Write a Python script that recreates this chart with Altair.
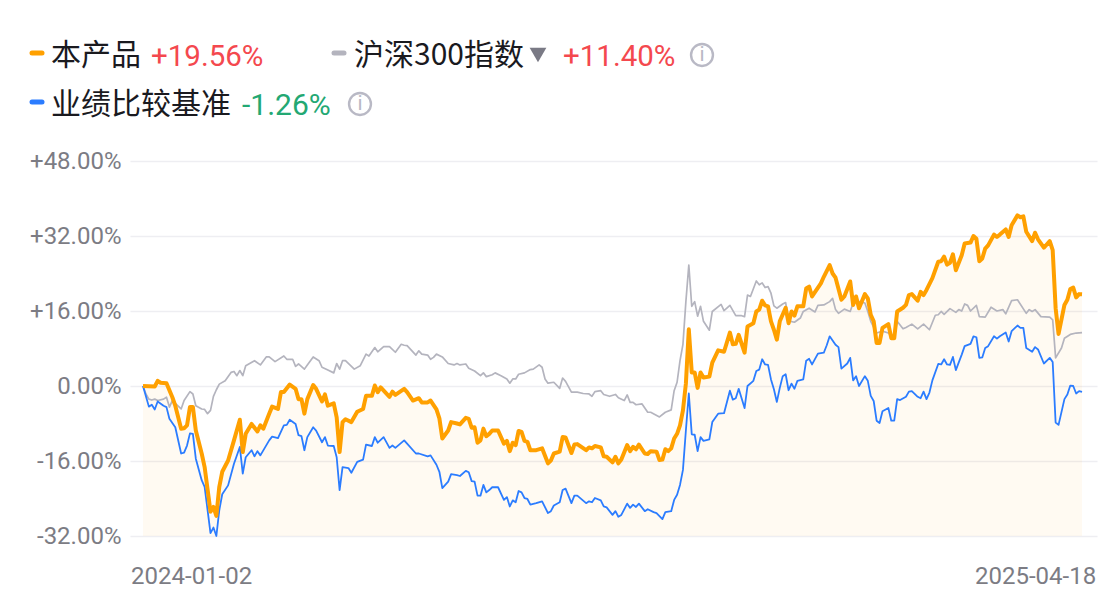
import altair as alt
import pandas as pd

orange_days = [0,4,5,6,8,10,11,13,14,15,16,17,18,20,21,23,24,25,26,27,29,31,33,34,35,37,39,40,41,43,44,46,47,48,50,52,53,54,55,56,58,59,61,62,63,65,66,67,68,69,71,73,75,76,78,79,80,81,84,85,86,89,90,92,94,95,97,98,100,101,102,104,105,107,108,110,111,112,113,114,115,116,117,118,119,121,123,124,125,126,127,128,129,130,131,132,134,136,138,139,140,142,143,144,146,147,148,151,152,153,154,156,157,158,160,161,162,163,165,166,167,168,169,171,172,173,175,176,177,178,179,180,181,182,183,184,185,186,187,188,189,190,191,193,194,196,198,200,201,202,203,205,206,208,209,210,211,212,213,214,215,216,217,219,220,221,222,223,225,226,227,228,231,232,234,235,236,238,239,241,242,243,244,246,247,248,249,250,251,252,254,255,256,257,259,260,261,262,264,265,266,267,269,271,272,273,274,275,276,277,279,280,282,283,284,285,286,287,288,290,291,292,294,295,296,298,299,300,301,303,304,305,307,309,310,311,312,314,315,316,317,318,319,320]
orange_vals = [0,-0.1,1.1,0.7,0.6,-2.4,-4.2,-9.1,-9.0,-8.4,-4.5,-4.5,-9.5,-14.4,-17.3,-26.8,-25.8,-27.7,-21.5,-18.3,-15.9,-11.6,-7.2,-14.1,-10.2,-8.1,-9.7,-8.4,-9.1,-5.9,-4.4,-4.9,-1.3,-1.3,0.3,-0.6,-2.8,-2.8,-5.9,-2.8,0.2,-0.6,-3.3,-1.8,-4.2,-3.7,-6.7,-14.1,-7.7,-7.1,-7.7,-5.5,-4.9,-2.1,-2.1,0.1,-1.3,-0.3,-2.3,-1.2,-1.9,-0.6,-1.3,-3.1,-2.6,-3.5,-3.5,-3.1,-5.0,-6.9,-11.2,-9.5,-7.7,-8.0,-8.2,-6.8,-7.0,-8.9,-8.8,-12.1,-11.6,-9.1,-10.7,-10.2,-9.5,-9.5,-12.3,-11.7,-13.9,-12.1,-12.6,-9.6,-9.8,-11.7,-11.9,-13.7,-13.7,-13.3,-16.5,-15.9,-14.4,-14.0,-10.9,-11.0,-14.3,-12.5,-12.4,-13.7,-13.1,-13.3,-12.8,-13.1,-15.0,-15.1,-16.3,-15.1,-16.5,-15.7,-12.6,-13.9,-13.0,-13.5,-12.5,-14.4,-14.5,-13.9,-14.0,-15.8,-15.7,-13.5,-13.9,-13.3,-11.2,-10.2,-8.4,-5.2,0.5,12.1,2.9,2.9,-0.4,2.9,1.8,2.0,5.0,7.6,7.3,11.4,8.9,9.0,10.9,7.1,12.7,13.4,15.9,16.3,18.2,17.2,17.0,13.8,12.0,9.9,13.8,16.7,13.4,15.9,15.0,17.0,17.0,20.8,21.2,19.1,21.9,23.3,25.8,24.0,23.1,18.4,19.1,22.3,17.3,19.1,16.6,19.6,18.7,15.2,13.8,9.2,9.2,12.4,13.2,10.2,10.2,15.9,16.7,17.3,19.4,19.6,18.2,20.1,19.4,20.5,23.0,26.5,26.6,27.6,25.9,26.3,28.1,24.7,27.9,30.4,30.6,32.0,31.4,26.6,27.2,29.3,30.0,32.3,31.8,32.3,33.4,31.8,34.3,36.4,36.0,36.2,32.9,30.9,32.7,31.3,29.5,30.9,29.0,16.6,11.1,17.3,18.4,20.7,21.0,18.9,19.6,19.56]

gray_days = [0,1,2,3,4,5,7,8,9,10,13,14,16,17,18,20,21,22,23,24,25,26,28,30,31,32,33,34,35,38,40,42,43,45,48,49,51,52,53,55,56,58,60,61,63,65,66,67,68,69,72,74,76,77,79,80,82,84,86,88,89,90,93,94,95,97,98,99,100,102,104,106,107,108,110,111,113,115,116,117,119,120,122,124,125,126,127,128,130,132,133,135,136,137,138,140,142,143,144,146,148,150,152,153,154,156,157,159,161,162,164,165,166,167,168,170,172,173,176,178,180,181,182,183,184,185,186,187,188,189,190,191,193,194,197,198,200,202,204,205,206,207,209,210,211,212,213,214,215,216,218,219,220,222,224,225,227,229,230,232,234,235,236,237,239,241,242,244,246,247,248,250,252,254,256,257,259,260,262,264,266,268,270,271,272,273,275,277,278,279,280,281,282,284,285,287,289,291,293,294,296,298,301,302,303,304,306,309,310,311,313,314,316,318,320]
gray_vals = [0,-1.7,-2.8,-3.0,-2.8,-3.1,-2.8,-2.4,-4.5,-3.1,-4.9,-3.1,-1.2,-1.7,-4.2,-4.9,-5.0,-5.9,-5.2,-2.2,-0.8,0.4,1.1,2.9,3.1,2.2,3.3,2.2,4.3,5.4,4.5,6.2,6.2,5.2,6.4,5.7,5.7,4.2,4.7,3.6,4.5,6.2,5.4,4.0,3.4,2.8,4.8,3.6,5.4,5.4,3.6,4.3,6.8,6.4,8.2,7.3,8.4,8.4,7.2,8.9,8.7,8.6,6.6,7.5,6.8,6.6,5.7,6.1,6.8,6.2,4.8,4.5,4.8,4.5,4.7,3.8,3.2,2.2,2.8,2.0,2.4,2.8,2.2,1.5,0.6,1.5,1.5,2.5,2.8,3.5,3.6,4.5,4.0,1.5,0.6,0.8,-0.5,1.7,1.0,-1.3,-1.3,-1.6,-1.7,-2.2,-1.2,-1.0,-1.8,-2.2,-1.8,-2.5,-3.1,-1.9,-3.5,-3.5,-4.0,-3.8,-5.6,-5.6,-6.6,-5.6,-5.1,-1.0,0.8,5.4,8.9,18.0,25.8,17.0,18.0,14.9,17.0,13.8,11.9,15.9,17.4,16.1,17.2,15.0,15.0,14.8,19.4,19.1,22.4,21.6,22.0,21.0,21.2,19.8,17.1,16.6,17.5,17.8,13.9,13.6,14.5,15.9,16.6,15.8,17.2,17.3,18.0,18.7,16.3,15.5,16.4,15.9,17.7,18.0,17.7,15.9,13.8,11.3,11.7,11.3,10.2,13.8,12.2,12.5,13.2,12.2,13.2,12.0,15.1,15.2,15.9,15.3,16.5,15.7,16.3,16.0,17.5,17.2,16.0,17.2,14.8,14.7,16.8,16.0,16.3,15.4,18.2,18.4,15.5,16.3,15.9,16.3,14.8,14.7,14.1,6.0,8.1,10.2,11.0,11.3,11.4]

blue_days = [0,2,3,4,5,7,8,9,11,13,14,15,16,17,18,20,21,23,24,25,26,27,29,31,33,34,35,37,38,39,40,43,44,46,48,49,50,52,53,54,55,56,58,59,61,62,63,65,66,67,68,70,71,73,75,76,78,79,80,82,84,85,86,89,90,93,94,97,98,100,101,102,104,105,107,108,110,111,112,113,114,115,116,117,118,119,121,123,124,125,126,127,128,129,130,131,132,134,136,138,139,140,142,143,144,146,147,148,151,152,153,154,156,157,158,160,161,162,163,165,166,167,168,169,171,172,174,175,177,178,180,181,182,183,184,185,186,187,188,189,190,191,193,194,196,198,200,201,202,203,205,206,208,209,210,211,212,213,214,215,216,217,218,219,220,221,222,223,225,226,227,228,230,232,233,234,236,237,238,240,241,242,243,244,246,247,248,249,250,251,252,254,255,256,257,258,260,261,262,264,265,266,267,268,269,271,272,273,274,275,276,277,279,280,282,283,284,285,286,287,288,290,291,292,294,295,296,298,299,300,301,303,304,305,307,309,310,311,312,314,315,316,317,318,319,320]
blue_vals = [0,-4.4,-4.0,-5.0,-3.3,-4.2,-4.5,-7.0,-8.8,-14.4,-14.2,-12.7,-10.1,-10.2,-15.5,-20.1,-21.5,-31.4,-30.2,-32.0,-26.5,-23.1,-21.2,-16.6,-13.0,-18.7,-15.2,-13.7,-15.0,-13.9,-14.8,-11.6,-10.8,-11.1,-8.4,-8.3,-7.2,-8.1,-10.5,-10.7,-13.7,-10.9,-8.8,-9.5,-12.0,-10.9,-12.7,-12.8,-15.2,-22.2,-17.3,-17.5,-18.5,-16.2,-15.7,-12.5,-12.8,-10.9,-12.1,-10.9,-13.2,-12.7,-13.2,-11.6,-12.3,-14.4,-14.4,-15.0,-14.8,-16.8,-18.3,-21.8,-20.4,-18.8,-19.0,-19.2,-18.1,-18.4,-20.3,-20.4,-23.4,-23.4,-21.1,-22.7,-22.2,-21.6,-21.6,-24.3,-23.7,-25.7,-24.4,-24.8,-22.4,-22.7,-23.9,-24.1,-25.3,-25.0,-24.6,-27.1,-26.7,-25.5,-24.8,-22.2,-21.9,-25.0,-23.4,-23.4,-25.0,-24.6,-24.8,-23.9,-24.4,-25.7,-25.9,-27.5,-26.7,-27.9,-27.5,-25.1,-26.0,-25.3,-25.8,-25.1,-26.7,-26.3,-26.9,-27.1,-28.4,-26.9,-26.7,-24.3,-23.2,-21.1,-17.9,-9.5,-1.6,-10.3,-10.4,-13.9,-10.9,-11.7,-11.4,-7.7,-5.9,-5.8,-1.0,-2.9,-2.6,-0.6,-4.7,0,1.1,3.2,3.5,5.7,4.6,4.5,1.4,-0.7,-3.4,-0.4,2.1,2.5,-0.9,0.5,-0.6,1.1,1.4,5.4,5.8,4.6,6.9,7.1,8.7,10.6,8.8,8.3,3.7,4.8,6.0,1.2,2.1,0,2.1,1.1,-2.1,-3.2,-7.4,-7.9,-5.4,-4.7,-7.4,-7.4,-2.8,-3.0,-2.3,-1.2,-1.1,-2.3,-2.6,-1.2,-2.8,-1.4,1.2,4.7,4.6,5.7,4.6,4.5,6.2,3.4,6.7,8.5,9.0,10.6,10.4,6.0,6.1,8.1,8.5,10.6,10.1,10.6,11.4,9.5,11.7,12.9,12.4,12.4,8.1,7.3,8.3,7.8,4.8,6.0,5.1,-7.8,-8.3,-2.8,-1.8,0.1,0,-1.6,-1.1,-1.26]

y_ticks = [-32, -16, 0, 16, 32, 48]
x_ticks = [16.4, 304]
start_label = "2024-01-02"
end_label = "2025-04-18"

ORANGE, GRAY, BLUE = "#FFA000", "#B4B4BE", "#2B7CFF"
RED, GREEN = "#F4484E", "#23A873"
NUM = "Roboto"
CJK = "Noto Sans CJK SC"

def frame(d, v):
    return pd.DataFrame({"day": d, "pct": v})

x_scale = alt.Scale(domain=[-4.43, 325.1], nice=False, zero=False)
y_scale = alt.Scale(domain=[-32, 48], nice=False, zero=False)
X = alt.X("day:Q", scale=x_scale, title=None, axis=alt.Axis(
    values=x_ticks, grid=False, domain=False, ticks=False, labelFont=NUM,
    labelFontSize=24, labelColor="#7c7c84", labelPadding=28, labelFontWeight=400,
    labelFlush=False, labelOverlap=False,
    labelExpr=f"datum.value < 100 ? '{start_label}' : '{end_label}'"))
Y = alt.Y("pct:Q", scale=y_scale, title=None, axis=alt.Axis(
    values=y_ticks, domain=False, ticks=False, gridColor="#EEEEF2", gridWidth=1.5,
    labelFont=NUM, labelFontSize=24, labelColor="#7c7c84", labelPadding=9,
    labelFontWeight=400, labelOverlap=False,
    labelExpr="(datum.value > 0 ? '+' : datum.value < 0 ? '-' : '') + format(abs(datum.value), '.2f') + '%'"))

area = alt.Chart(frame(orange_days, orange_vals)).mark_area(
    color=ORANGE, opacity=0.05, interpolate="linear"
).encode(x=X, y=Y, y2=alt.Y2(datum=-32))

def line(d, v, color, w):
    return alt.Chart(frame(d, v)).mark_line(color=color, strokeWidth=w, interpolate="linear",
                                            strokeJoin="round").encode(x=X, y=Y)

def txt(s, px, py, color, font, size, align="left", weight=400):
    return alt.Chart(alt.Data(values=[{"t": s}])).mark_text(
        align=align, baseline="middle", color=color, font=font, fontSize=size, fontWeight=weight
    ).encode(text="t:N", x=alt.value(px - 130), y=alt.value(py - 161))

def swatch(px, py, color):
    return alt.Chart(alt.Data(values=[{"a": 1}])).mark_rule(
        color=color, strokeWidth=5, strokeCap="round"
    ).encode(x=alt.value(px - 130), x2=alt.value(px + 10 - 130), y=alt.value(py - 161))

def info(px, py):
    ring = alt.Chart(alt.Data(values=[{"a": 1}])).mark_point(
        shape="circle", filled=False, color="#B9B9C5", strokeWidth=2.4, size=480, opacity=1
    ).encode(x=alt.value(px - 130), y=alt.value(py - 161))
    return ring + txt("i", px, py, "#B9B9C5", NUM, 21, "center")

tri = alt.Chart(alt.Data(values=[{"a": 1}])).mark_point(
    shape="triangle-down", filled=True, color="#7A7A85", size=280, opacity=1
).encode(x=alt.value(538 - 130), y=alt.value(55 - 161))

chart = alt.layer(
    area,
    line(gray_days, gray_vals, GRAY, 1.7),
    line(blue_days, blue_vals, BLUE, 1.8),
    line(orange_days, orange_vals, ORANGE, 4),
    swatch(32, 53, ORANGE), txt("本产品", 51, 56, "#1A1A1F", CJK, 30),
    txt("+19.56%", 151, 57, RED, NUM, 29.5),
    swatch(334, 53, GRAY), txt("沪深300指数", 354, 56, "#1A1A1F", CJK, 30),
    tri,
    txt("+11.40%", 563, 57, RED, NUM, 29.5),
    info(702, 55),
    swatch(32, 102, BLUE), txt("业绩比较基准", 51, 105, "#1A1A1F", CJK, 30),
    txt("-1.26%", 242, 106, GREEN, NUM, 30),
    info(360, 104),
).resolve_scale(x="shared", y="shared").properties(
    width=967, height=375,
    padding={"left": 122, "top": 153, "right": 4, "bottom": 62},
    autosize=alt.AutoSizeParams(type="none"),
    background="#FFFFFF",
).configure_view(stroke=None)

chart.save("out.html", embed_options={"renderer": "svg", "actions": False})
